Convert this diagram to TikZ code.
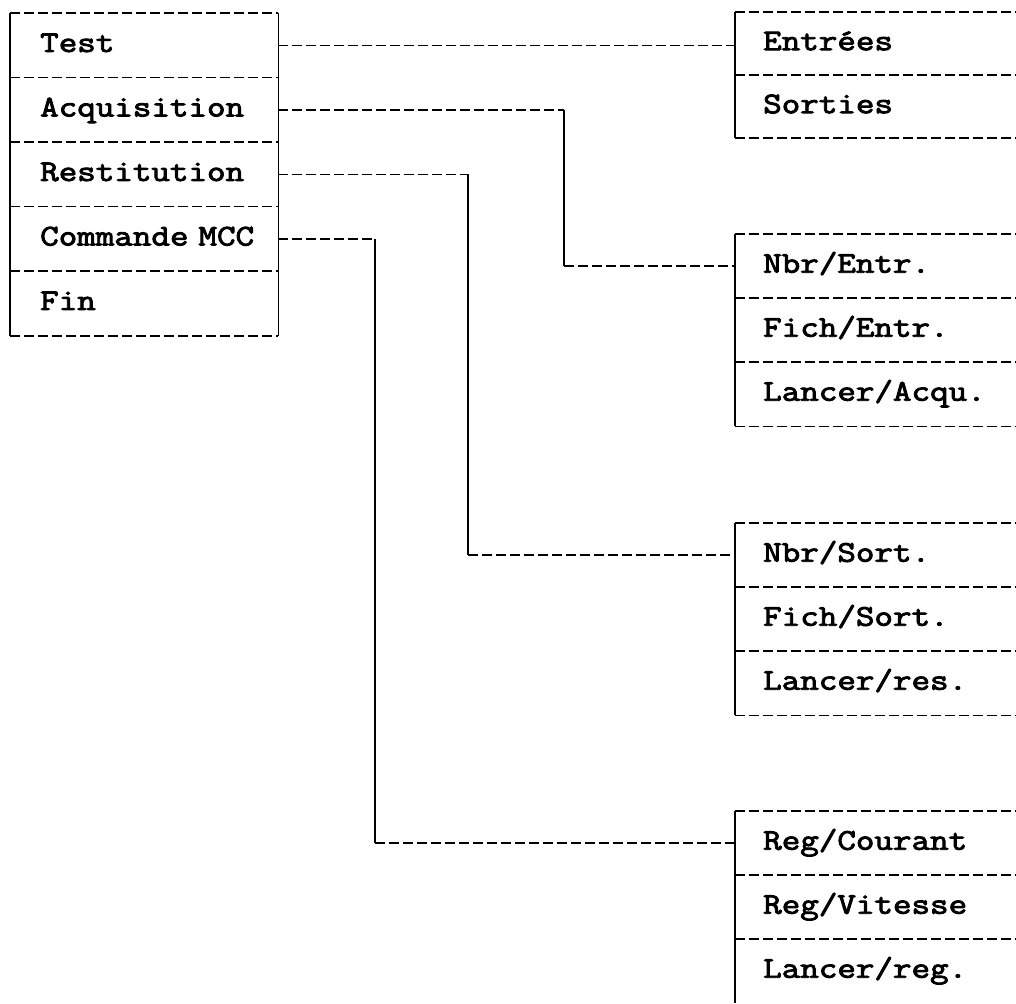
\documentclass[tikz,border=0pt]{standalone}
\usepackage{fontspec}
\newfontfamily\menufont[FakeStretch=1.2,FakeBold=3]{Latin Modern Mono}
\begin{document}
\begin{tikzpicture}[x=1pt,y=-1pt,
  cellbase/.style={rectangle, inner sep=0pt, minimum height=64.5pt,
    align=left, anchor=north west,
    font=\fontsize{30}{30}\selectfont\menufont,
    text height=19pt, text depth=6pt},
  cell/.style={cellbase, text width=268pt, execute at begin node={\hspace*{30pt}}},
  rcell/.style={cellbase, text width=300pt, execute at begin node={\hspace*{28pt}}},
  dline/.style={line width=1.8pt, dash pattern=on 10pt off 4pt},
  vline/.style={line width=1.8pt},
]
\useasboundingbox (0,0) rectangle (1016,1003);

% left menu
\node[cell] (test) at (10,13)    {Test};
\node[cell] (acq)  at (10,77.5)  {Acquisition};
\node[cell] (rest) at (10,142)   {Restitution};
\node[cell] (mcc)  at (10,206.5) {Commande MCC};
\node[cell] (fin)  at (10,271)   {Fin};

% right sub-menus
\node[rcell, minimum height=63pt] (ent) at (735,12) {Entrées};
\node[rcell, minimum height=63pt] (sor) at (735,75) {Sorties};

\node[rcell, minimum height=64pt] (nbre)  at (735,234) {Nbr/Entr.};
\node[rcell, minimum height=64pt] (fiche) at (735,298) {Fich/Entr.};
\node[rcell, minimum height=64pt] (lacq)  at (735,362) {Lancer/Acqu.};

\node[rcell, minimum height=64pt] (nbrs)  at (735,523) {Nbr/Sort.};
\node[rcell, minimum height=64pt] (fichs) at (735,587) {Fich/Sort.};
\node[rcell, minimum height=64pt] (lres)  at (735,651) {Lancer/res.};

\node[rcell, minimum height=64pt] (rcou) at (735,811) {Reg/Courant};
\node[rcell, minimum height=64pt] (rvit) at (735,875) {Reg/Vitesse};
\node[rcell, minimum height=64pt] (lreg) at (735,939) {Lancer/reg.};

% left box borders
\draw[vline] (test.north west) -- (fin.south west);
\draw[vline] (test.north east) -- (fin.south east);
\foreach \n in {test,acq,rest,mcc,fin} \draw[dline] (\n.north west) -- (\n.north east);
\draw[dline] (fin.south west) -- (fin.south east);

% right box borders
\draw[vline] (ent.north west) -- (sor.south west);
\foreach \n in {ent,sor} \draw[dline] (\n.north west) -- (\n.north east);
\draw[dline] (sor.south west) -- (sor.south east);

\draw[vline] (nbre.north west) -- (lacq.south west);
\foreach \n in {nbre,fiche,lacq} \draw[dline] (\n.north west) -- (\n.north east);
\draw[dline] (lacq.south west) -- (lacq.south east);

\draw[vline] (nbrs.north west) -- (lres.south west);
\foreach \n in {nbrs,fichs,lres} \draw[dline] (\n.north west) -- (\n.north east);
\draw[dline] (lres.south west) -- (lres.south east);

\draw[vline] (rcou.north west) -- (lreg.south west);
\foreach \n in {rcou,rvit,lreg} \draw[dline] (\n.north west) -- (\n.north east);

% connectors
\coordinate (ja) at (564,0);
\coordinate (jr) at (468,0);
\coordinate (jm) at (375,0);

\draw[dline] (test.east) -- (test.east -| ent.west);

\draw[dline] (acq.east) -- (acq.east -| ja);
\draw[vline] (acq.east -| ja) -- (nbre.west -| ja);
\draw[dline] (nbre.west -| ja) -- (nbre.west);

\draw[dline] (rest.east) -- (rest.east -| jr);
\draw[vline] (rest.east -| jr) -- (nbrs.west -| jr);
\draw[dline] (nbrs.west -| jr) -- (nbrs.west);

\draw[dline] (mcc.east) -- (mcc.east -| jm);
\draw[vline] (mcc.east -| jm) -- (rcou.west -| jm);
\draw[dline] (rcou.west -| jm) -- (rcou.west);
\end{tikzpicture}
\end{document}
